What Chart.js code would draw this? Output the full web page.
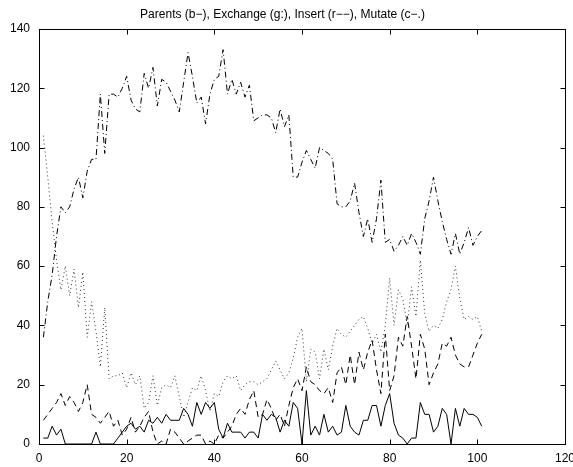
<!DOCTYPE html>
<html>
<head>
<meta charset="utf-8">
<title>GA operator counts</title>
<script src="https://cdn.jsdelivr.net/npm/chart.js@4/dist/chart.umd.min.js"></script>
<style>
  html, body { margin: 0; padding: 0; background: #fff; }
  #wrap { width: 573px; height: 467px; }
</style>
</head>
<body>
<div id="wrap"><canvas id="grafico" width="573" height="467"></canvas></div>
<script>
// generation number, 1..101
const generations = [];
for (let g = 1; g <= 101; g++) generations.push(g);

const parents = [
  2, 2, 6, 3, 5, 0, 0, 0, 0, 0,
  0, 0, 4, 0, 0, 0, 0, 2, 4, 6,
  7, 5, 6, 4, 8, 7, 9, 7, 10, 8,
  8, 8, 12, 10, 6, 14, 10, 14, 12, 14,
  5, 2, 7, 4, 4, 4, 2, 4, 4, 2,
  10, 8, 10, 9, 4, 8, 6, 14, 12, 0,
  18, 3, 6, 3, 10, 4, 6, 3, 4, 13,
  6, 4, 3, 8, 8, 13, 13, 6, 13, 17,
  7, 3, 2, 0, 2, 2, 14, 10, 10, 4,
  6, 12, 10, 0, 12, 6, 12, 10, 10, 9,
  6
];

const exchange = [
  104, 90, 75, 62, 52, 60, 50, 59, 46, 58,
  36, 48, 38, 26, 46, 22, 23, 23, 24, 19,
  24, 20, 23, 12, 14, 23, 13, 19, 20, 19,
  23, 16, 9, 14, 19, 18, 23, 18, 11, 17,
  16, 21, 23, 22, 23, 18, 20, 21, 21, 20,
  21, 22, 25, 28, 25, 22, 24, 29, 36, 39,
  21, 32, 31, 22, 32, 25, 33, 39, 37, 36,
  38, 40, 42, 43, 39, 34, 37, 31, 40, 56,
  40, 52, 49, 40, 53, 43, 62, 44, 38, 40,
  39, 42, 48, 52, 60, 49, 42, 43, 42, 43,
  38
];

const insert = [
  8, 10, 12, 14, 17, 13, 16, 14, 11, 14,
  20, 10, 9, 7, 9, 11, 6, 8, 3, 5,
  9, 4, 6, 9, 11, 4, 0, 1, 0, 5,
  4, 2, 0, 1, 2, 3, 3, 0, 1, 0,
  3, 2, 4, 6, 10, 12, 10, 15, 18, 9,
  10, 15, 12, 8, 10, 6, 13, 19, 22, 18,
  26, 21, 20, 18, 17, 19, 14, 24, 26, 20,
  30, 20, 31, 25, 31, 35, 25, 17, 37, 18,
  23, 36, 33, 43, 33, 22, 37, 32, 20, 24,
  27, 34, 33, 36, 30, 27, 26, 26, 30, 34,
  37
];

const mutate = [
  36, 48, 57, 70, 80, 78, 80, 86, 90, 83,
  92, 96, 96, 118, 98, 118, 118, 117, 120, 124,
  116, 113, 112, 125, 120, 127, 114, 123, 122, 119,
  116, 112, 122, 132, 124, 115, 117, 108, 118, 123,
  124, 133, 118, 123, 118, 122, 117, 121, 109, 110,
  111, 111, 110, 105, 113, 107, 111, 90, 90, 95,
  99, 96, 93, 100, 99, 98, 96, 81, 80, 80,
  82, 88, 78, 70, 76, 68, 76, 89, 68, 69,
  65, 67, 70, 67, 71, 68, 64, 76, 82, 90,
  82, 75, 69, 64, 71, 64, 68, 73, 67, 70,
  72
];

const xTicks = [0, 20, 40, 60, 80, 100, 120];
const yTicks = [0, 20, 40, 60, 80, 100, 120, 140];

const fonte = { family: "'Liberation Sans', Arial, Helvetica, sans-serif", size: 12 };

function pontos(valores) {
  return valores.map((v, i) => ({ x: generations[i], y: v }));
}

function serie(label, valores, dash, cor) {
  return {
    label: label,
    data: pontos(valores),
    borderColor: cor,
    borderWidth: 1,
    borderDash: dash,
    pointRadius: 0,
    tension: 0,
    fill: false
  };
}

// box around the axes with ticks pointing inwards, on all four sides
const moldura = {
  id: 'moldura',
  afterDraw(chart) {
    const ctx = chart.ctx;
    const a = chart.chartArea;
    const sx = chart.scales.x, sy = chart.scales.y;
    const L = Math.round(a.left) + 0.5, R = Math.round(a.right) + 0.5;
    const T = Math.round(a.top) + 0.5, B = Math.round(a.bottom) + 0.5;
    const len = 5;
    ctx.save();
    ctx.strokeStyle = '#000';
    ctx.lineWidth = 1;
    ctx.setLineDash([]);
    ctx.strokeRect(L, T, R - L, B - T);
    ctx.beginPath();
    xTicks.forEach(v => {
      const px = Math.round(sx.getPixelForValue(v)) + 0.5;
      ctx.moveTo(px, B); ctx.lineTo(px, B - len);
      ctx.moveTo(px, T); ctx.lineTo(px, T + len);
    });
    yTicks.forEach(v => {
      const py = Math.round(sy.getPixelForValue(v)) + 0.5;
      ctx.moveTo(L, py); ctx.lineTo(L + len, py);
      ctx.moveTo(R, py); ctx.lineTo(R - len, py);
    });
    ctx.stroke();
    ctx.restore();
  }
};

new Chart(document.getElementById('grafico').getContext('2d'), {
  type: 'line',
  data: {
    datasets: [
      serie('Parents', parents, [], '#000'),
      serie('Exchange', exchange, [1, 3], '#333'),
      serie('Insert', insert, [6, 4], '#000'),
      serie('Mutate', mutate, [6, 3, 1, 3], '#000')
    ]
  },
  options: {
    responsive: false,
    animation: false,
    devicePixelRatio: 1,
    layout: { padding: { left: 0, right: 8, top: 0, bottom: 0 } },
    plugins: {
      legend: { display: false },
      tooltip: { enabled: false },
      title: {
        display: true,
        text: 'Parents (b\u2212), Exchange (g:), Insert (r\u2212\u2212), Mutate (c\u2212.)',
        color: '#000',
        font: { family: fonte.family, size: 12, weight: 'normal' },
        padding: { top: 7, bottom: 7.5 }
      }
    },
    scales: {
      x: {
        type: 'linear',
        min: 0,
        max: 120,
        grid: { display: false, drawTicks: false },
        border: { display: false },
        ticks: { stepSize: 20, color: '#000', font: fonte, padding: 7, maxRotation: 0 },
        afterFit(scale) {
          scale.height = 23;
          scale.paddingLeft = 0;
          scale.paddingRight = 0;
        }
      },
      y: {
        min: 0,
        max: 140,
        grid: { display: false, drawTicks: false },
        border: { display: false },
        ticks: { stepSize: 20, color: '#000', font: fonte, padding: 9 },
        afterFit(scale) {
          scale.width = 39;
          scale.paddingTop = 0;
          scale.paddingBottom = 0;
        }
      }
    }
  },
  plugins: [moldura]
});
</script>
</body>
</html>
